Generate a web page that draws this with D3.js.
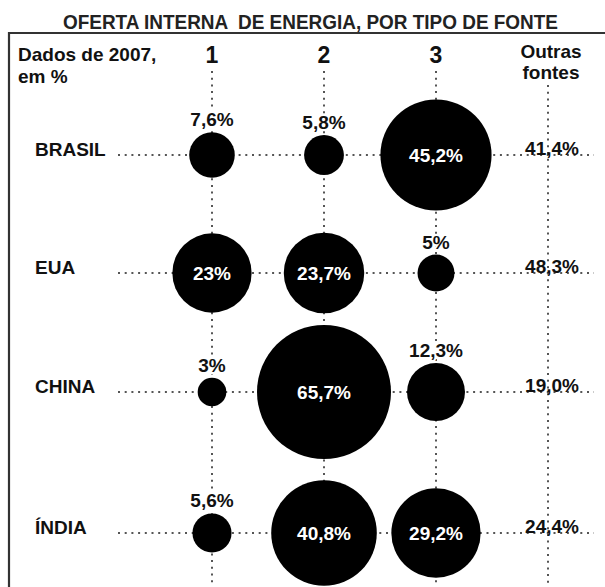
<!DOCTYPE html>
<html>
<head>
<meta charset="utf-8">
<script src="https://cdn.jsdelivr.net/npm/d3@7"></script>
<style>
  html, body { margin: 0; padding: 0; background: #fff; }
  svg { display: block; }
  text { font-family: "Liberation Sans", Arial, sans-serif; font-weight: bold; }
</style>
</head>
<body>
<div id="chart"></div>
<script>
// dados de 2007, em %
const countries = ["BRASIL", "EUA", "CHINA", "ÍNDIA"];
const sources = ["1", "2", "3"];
const fonte1 = [7.6, 23, 3, 5.6];
const fonte2 = [5.8, 23.7, 65.7, 40.8];
const fonte3 = [45.2, 5, 12.3, 29.2];
const outras = [41.4, 48.3, 19.0, 24.4];

const width = 605, height = 587;
const svg = d3.select('#chart').append('svg')
    .attr('width', width)
    .attr('height', height);

const columns = sources.concat(["Outras"]);
const x = d3.scalePoint().domain(columns).range([212, 548]);
const y = d3.scaleOrdinal().domain(countries).range([155, 273, 392, 533]);
const r = d3.scaleSqrt().domain([0, 65.7]).range([0, 67]);

const comma = v => (Number.isInteger(v) ? String(v) : v.toFixed(1)).replace('.', ',') + '%';
const comma1 = v => v.toFixed(1).replace('.', ',') + '%';

// bubbles table built from the series
const series = [fonte1, fonte2, fonte3];
const bubbles = [];
series.forEach((vals, i) => {
    vals.forEach((v, j) => bubbles.push({ col: sources[i], country: countries[j], value: v }));
});

// title
svg.append('text')
    .attr('x', 63)
    .attr('y', 28.5)
    .attr('textLength', 495)
    .attr('lengthAdjust', 'spacingAndGlyphs')
    .style('white-space', 'pre')
    .style('font-family', '"Liberation Sans Narrow", "Liberation Sans", Arial, sans-serif')
    .style('font-size', '20px')
    .attr('fill', '#222')
    .text('OFERTA INTERNA  DE ENERGIA, POR TIPO DE FONTE');

// frame
svg.append('path')
    .attr('d', `M9,${height + 2}V33H${width + 2}`)
    .attr('fill', 'none')
    .attr('stroke', '#333')
    .attr('stroke-width', 2.2);

// header
svg.append('text').attr('x', 18).attr('y', 61).style('font-size', '19px').attr('fill', '#111').text('Dados de 2007,');
svg.append('text').attr('x', 18).attr('y', 83).style('font-size', '19px').attr('fill', '#111').text('em %');

svg.selectAll('text.colnum')
    .data(sources)
    .enter().append('text')
    .attr('class', 'colnum')
    .attr('x', d => x(d))
    .attr('y', 63)
    .attr('text-anchor', 'middle')
    .style('font-size', '23px')
    .attr('fill', '#111')
    .text(d => d);

svg.append('text').attr('x', x('Outras') + 3).attr('y', 58).attr('text-anchor', 'middle')
    .style('font-size', '19px').attr('fill', '#111').text('Outras');
svg.append('text').attr('x', x('Outras') + 3).attr('y', 79).attr('text-anchor', 'middle')
    .style('font-size', '19px').attr('fill', '#111').text('fontes');

// dotted guides
const dots = g => g.attr('stroke', '#555').attr('stroke-width', 2).attr('stroke-dasharray', '2,4.7');

svg.selectAll('line.vguide')
    .data(columns)
    .enter().append('line')
    .attr('class', 'vguide')
    .attr('x1', d => x(d)).attr('x2', d => x(d))
    .attr('y1', d => d === 'Outras' ? 85 : 71)
    .attr('y2', height)
    .call(dots);

svg.selectAll('line.hguide')
    .data(countries)
    .enter().append('line')
    .attr('class', 'hguide')
    .attr('x1', 118).attr('x2', 594)
    .attr('y1', d => y(d)).attr('y2', d => y(d))
    .call(dots);

// row labels
svg.selectAll('text.country')
    .data(countries)
    .enter().append('text')
    .attr('class', 'country')
    .attr('x', 35)
    .attr('y', d => y(d) + 1)
    .style('font-size', '19px')
    .attr('fill', '#111')
    .text(d => d);

// bubbles
svg.selectAll('circle.bubble')
    .data(bubbles)
    .enter().append('circle')
    .attr('class', 'bubble')
    .attr('cx', d => x(d.col))
    .attr('cy', d => y(d.country))
    .attr('r', d => r(d.value))
    .attr('fill', '#000');

// value labels
svg.selectAll('text.value')
    .data(bubbles)
    .enter().append('text')
    .attr('class', 'value')
    .attr('x', d => x(d.col))
    .attr('y', d => d.value >= 20 ? y(d.country) + 7 : y(d.country) - r(d.value) - 6)
    .attr('text-anchor', 'middle')
    .style('font-size', '19px')
    .attr('fill', d => d.value >= 20 ? '#fff' : '#111')
    .attr('stroke', d => d.value >= 20 ? 'none' : '#fff')
    .attr('stroke-width', 4)
    .style('paint-order', 'stroke')
    .text(d => comma(d.value));

// outras fontes
svg.selectAll('text.outras')
    .data(outras)
    .enter().append('text')
    .attr('class', 'outras')
    .attr('x', x('Outras') + 4)
    .attr('y', (d, i) => y(countries[i]))
    .attr('text-anchor', 'middle')
    .style('font-size', '19px')
    .attr('fill', '#111')
    .text(d => comma1(d));
</script>
</body>
</html>
